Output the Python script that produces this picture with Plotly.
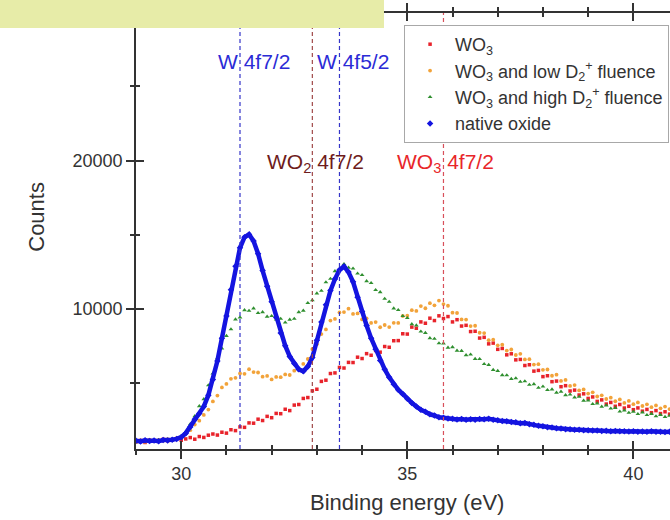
import plotly.graph_objects as go

# Binding-energy grid (eV): 29.0 ... 40.8 in 0.1 eV steps
E_START = 29.0
E_STEP = 0.1

# Counts for each sample, one value per grid point
wo3 = [
    1040, 1130, 990, 1150, 1070, 1090, 1200, 1110, 1180, 1250,
    1140, 1230, 1320, 1210, 1390, 1330, 1480, 1560, 1490, 1680,
    1620, 1850, 1790, 2040, 2010, 2310, 2290, 2560, 2470, 2750,
    2660, 2950, 2930, 3230, 3140, 3510, 3550, 3960, 4020, 4470,
    4580, 5110, 5190, 5640, 5680, 6050, 6010, 6390, 6380, 6740,
    6650, 6980, 6870, 7190, 7080, 7460, 7410, 7850, 7860, 8320,
    8300, 8770, 8690, 9120, 9030, 9370, 9210, 9530, 9350, 9480,
    9120, 9270, 8840, 8890, 8470, 8490, 8030, 8080, 7640, 7690,
    7270, 7330, 6900, 6970, 6560, 6590, 6180, 6230, 5800, 5850,
    5430, 5490, 5090, 5130, 4750, 4820, 4460, 4520, 4190, 4270,
    3960, 4060, 3760, 3860, 3580, 3690, 3430, 3550, 3310, 3430,
    3200, 3320, 3100, 3220, 3000, 3140, 2940, 3060, 2900,
]

wo3_low = [
    1010, 1090, 1040, 1150, 1080, 1170, 1110, 1210, 1180, 1280,
    1330, 1590, 1820, 2200, 2460, 2850, 3210, 3760, 4150, 4700,
    4940, 5280, 5350, 5640, 5620, 5930, 5740, 5710, 5430, 5480,
    5240, 5410, 5390, 5580, 5540, 5830, 5890, 6290, 6620, 7290,
    7620, 8300, 8610, 9210, 9320, 9760, 9780, 10010, 9660, 9690,
    9290, 9360, 9050, 9110, 8760, 8910, 8770, 9060, 9050, 9520,
    9540, 9910, 9860, 10190, 10040, 10380, 10240, 10560, 10320, 10210,
    9740, 9720, 9290, 9280, 8840, 8860, 8390, 8370, 7890, 7920,
    7540, 7580, 7190, 7260, 6890, 6970, 6590, 6610, 6240, 6270,
    5890, 5910, 5490, 5560, 5140, 5210, 4800, 4860, 4500, 4570,
    4290, 4370, 4090, 4170, 3920, 4010, 3770, 3890, 3660, 3790,
    3570, 3690, 3450, 3560, 3370, 3490, 3290, 3410, 3240,
]

wo3_high = [
    1060, 1110, 1070, 1140, 1090, 1150, 1120, 1190, 1210, 1290,
    1420, 1680, 2230, 2770, 3440, 3910, 4850, 5650, 6680, 7330,
    8180, 8620, 9290, 9420, 9910, 9870, 10030, 9720, 9780, 9470,
    9520, 9280, 9330, 9080, 9270, 9330, 9780, 9880, 10390, 10580,
    11040, 11220, 11790, 12030, 12540, 12680, 13020, 12780, 12720, 12380,
    12280, 11870, 11740, 11270, 11130, 10680, 10480, 10030, 9920, 9520,
    9380, 8970, 8880, 8470, 8380, 8020, 7980, 7680, 7670, 7380,
    7420, 7180, 7170, 6880, 6920, 6630, 6620, 6280, 6220, 5880,
    5820, 5530, 5520, 5280, 5320, 5080, 5120, 4880, 4920, 4680,
    4760, 4530, 4570, 4350, 4420, 4180, 4220, 4030, 4070, 3810,
    3820, 3580, 3620, 3410, 3490, 3280, 3320, 3080, 3150, 2990,
    3070, 2910, 3020, 2840, 2920, 2760, 2850, 2710, 2790,
]

native_oxide = [
    1100, 1060, 1140, 1090, 1120, 1080, 1150, 1130, 1180, 1230,
    1350, 1620, 2040, 2560, 2940, 3420, 4180, 5230, 6480, 8020,
    9520, 11280, 12880, 14120, 14830, 15020, 14580, 13720, 12580, 11520,
    10480, 9420, 8380, 7520, 6790, 6310, 5920, 5790, 6120, 6720,
    7880, 9120, 10280, 11230, 12010, 12620, 12860, 12480, 11820, 10790,
    9820, 8880, 8020, 7280, 6520, 5920, 5380, 4920, 4540, 4260,
    3940, 3660, 3420, 3190, 3060, 2890, 2810, 2690, 2660, 2610,
    2590, 2540, 2570, 2520, 2550, 2530, 2580, 2560, 2590, 2520,
    2490, 2430, 2420, 2370, 2350, 2290, 2300, 2220, 2190, 2110,
    2090, 2020, 2000, 1950, 1940, 1890, 1890, 1850, 1850, 1810,
    1820, 1790, 1800, 1770, 1780, 1750, 1770, 1740, 1750, 1730,
    1740, 1720, 1730, 1710, 1740, 1710, 1720, 1700, 1720,
]

energy = [round(E_START + E_STEP * i, 1) for i in range(len(native_oxide))]

# Reference peak positions (eV)
peak_names = ["W 4f7/2", "W 4f5/2", "WO<sub>2</sub> 4f7/2", "WO<sub>3</sub> 4f7/2"]
peak_energy = [31.3, 33.5, 32.9, 35.8]

X_RANGE = [29.0, 40.81]
Y_RANGE = [550, 29950]
FONT = "Liberation Sans, Arial, sans-serif"
AX = "#333333"

fig = go.Figure()

series = [
    ("WO<sub>3</sub>", wo3, "#e8232b", "square", 3.5),
    ("WO<sub>3</sub> and low D<sub>2</sub><sup>+</sup> fluence", wo3_low, "#f2a33a", "circle", 3.8),
    ("WO<sub>3</sub> and high D<sub>2</sub><sup>+</sup> fluence", wo3_high, "#2f8f2f", "triangle-up", 4.2),
]
for name, vals, col, sym, size in series:
    fig.add_trace(go.Scatter(
        x=energy, y=vals, mode="markers", name=name,
        marker=dict(color=col, symbol=sym, size=size, line=dict(width=0)),
    ))

# native oxide: dense spectrum drawn as a thick trace plus markers
fig.add_trace(go.Scatter(
    x=energy, y=native_oxide, mode="lines", showlegend=False,
    line=dict(color="#1414e0", width=4.5), hoverinfo="skip",
))
fig.add_trace(go.Scatter(
    x=energy, y=native_oxide, mode="markers", name="native oxide",
    marker=dict(color="#1414e0", symbol="diamond", size=5, line=dict(width=0)),
))

# inside-tick companion axes
fig.add_trace(go.Scatter(x=[None], y=[None], xaxis="x2", yaxis="y2",
                         showlegend=False, hoverinfo="skip"))

# dashed peak markers
line_cols = ["#3535c8", "#3535c8", "#a04848", "#d8505a"]
for e, c in zip(peak_energy, line_cols):
    fig.add_shape(type="line", xref="x", yref="paper", x0=e, x1=e, y0=0, y1=1,
                  line=dict(color=c, width=1.2, dash="4px,3px"), layer="above")

# peak labels
label_pos = [(31.61, 26650, "#2b2bd6"), (33.81, 26650, "#2b2bd6"),
             (32.96, 19850, "#6e1c1c"), (35.84, 19850, "#e8262a")]
for txt, (lx, ly, lc) in zip(peak_names, label_pos):
    fig.add_annotation(x=lx, y=ly, xref="x", yref="y", text=txt, showarrow=False,
                       font=dict(family=FONT, size=21, color=lc),
                       xanchor="center", yanchor="middle")

# axis titles
fig.add_annotation(x=-0.187, y=0.533, xref="paper", yref="paper", text="Counts",
                   textangle=-90, showarrow=False, xanchor="center", yanchor="middle",
                   font=dict(family=FONT, size=22, color=AX))
fig.add_annotation(x=0.507, y=-0.122, xref="paper", yref="paper",
                   text="Binding energy (eV)", showarrow=False,
                   xanchor="center", yanchor="middle",
                   font=dict(family=FONT, size=22, color=AX))

# header band
fig.add_shape(type="rect", xref="paper", yref="paper",
              x0=-0.26, x1=0.4644, y0=0.9656, y1=1.04,
              fillcolor="#e7eca8", line=dict(width=0), layer="above")

tick_common = dict(ticklen=8, tickwidth=1.5, tickcolor=AX, showgrid=False, zeroline=False)

fig.update_layout(
    width=670, height=520,
    margin=dict(l=136, r=0, t=13, b=71),
    paper_bgcolor="white", plot_bgcolor="white",
    font=dict(family=FONT, color=AX),
    xaxis=dict(range=X_RANGE, showline=True, linecolor=AX, linewidth=1.5,
               ticks="outside", dtick=5, tick0=0, mirror="allticks",
               minor=dict(dtick=1, ticks="outside", ticklen=4, tickwidth=1.5, tickcolor=AX),
               tickfont=dict(family=FONT, size=18, color=AX), **tick_common),
    yaxis=dict(range=Y_RANGE, showline=True, linecolor=AX, linewidth=1.5,
               ticks="outside", dtick=10000, tick0=0, tickformat="d",
               minor=dict(dtick=5000, ticks="outside", ticklen=4, tickwidth=1.5, tickcolor=AX),
               tickfont=dict(family=FONT, size=18, color=AX), **tick_common),
    xaxis2=dict(range=X_RANGE, overlaying="x", anchor="y2", side="bottom",
                ticks="inside", dtick=5, tick0=0, mirror="allticks", showline=False,
                showticklabels=False,
                minor=dict(dtick=1, ticks="inside", ticklen=4, tickwidth=1.5, tickcolor=AX),
                **tick_common),
    yaxis2=dict(range=Y_RANGE, overlaying="y", anchor="x2", side="left",
                ticks="inside", dtick=10000, tick0=0, showline=False,
                showticklabels=False,
                minor=dict(dtick=5000, ticks="inside", ticklen=4, tickwidth=1.5, tickcolor=AX),
                **tick_common),
    legend=dict(x=0.502, y=0.9725, xanchor="left", yanchor="top",
                bgcolor="white", bordercolor="#a8a8a8", borderwidth=1,
                font=dict(family=FONT, size=18, color=AX),
                itemwidth=40, itemsizing="trace"),
    showlegend=True,
)

fig.write_html("out.html")
